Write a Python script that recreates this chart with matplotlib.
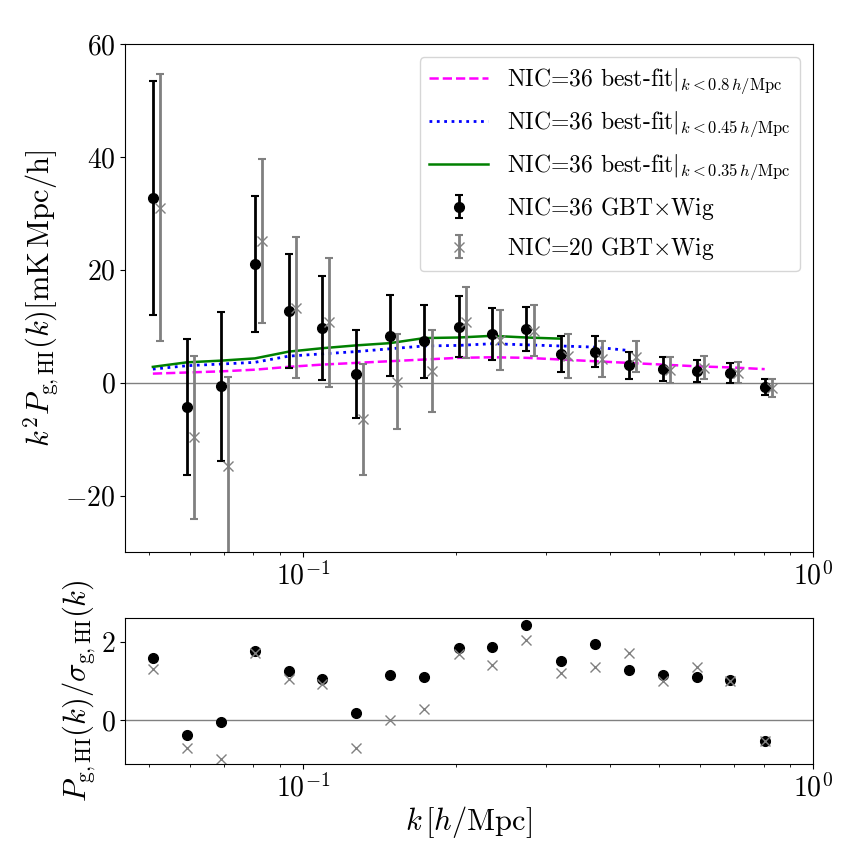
import matplotlib
matplotlib.use("Agg")
import matplotlib.pyplot as plt
import numpy as np

plt.rcParams['font.family'] = 'serif'
plt.rcParams['font.serif'] = ['cmr10', 'DejaVu Serif']
plt.rcParams['mathtext.fontset'] = 'cm'
plt.rcParams['axes.formatter.use_mathtext'] = True

# k bins [h/Mpc]
k = np.array([0.0508, 0.0592, 0.0690, 0.0805, 0.0938, 0.109, 0.127, 0.148, 0.173,
              0.202, 0.235, 0.274, 0.320, 0.373, 0.435, 0.507, 0.591, 0.689, 0.804])

# NIC=36 GBTxWig
p36 = [32.7, -4.3, -0.6, 21.0, 12.7, 9.7, 1.6, 8.3, 7.3, 9.9, 8.6, 9.5, 5.1, 5.5, 3.1, 2.4, 2.1, 1.7, -0.77]
e36 = [20.8, 12.0, 13.2, 12.0, 10.1, 9.2, 7.8, 7.2, 6.4, 5.4, 4.6, 3.9, 3.2, 2.8, 2.4, 2.1, 1.9, 1.7, 1.4]

# NIC=20 GBTxWig
p20 = [31.0, -9.7, -14.8, 25.1, 13.3, 10.7, -6.5, 0.2, 2.1, 10.7, 7.6, 9.2, 4.7, 4.2, 4.6, 2.3, 2.65, 1.8, -0.9]
e20 = [23.6, 14.5, 15.8, 14.5, 12.5, 11.4, 9.8, 8.4, 7.3, 6.3, 5.3, 4.5, 3.9, 3.2, 2.7, 2.3, 2.0, 1.8, 1.6]

# best-fit models
fit08 = [1.6, 1.8, 2.0, 2.3, 2.8, 3.2, 3.5, 3.8, 4.1, 4.4, 4.5, 4.4, 4.1, 3.8, 3.5, 3.2, 2.9, 2.7, 2.4]
fit045 = [2.4, 3.0, 3.3, 3.6, 4.7, 5.1, 5.5, 6.0, 6.5, 6.6, 6.9, 6.7, 6.5, 6.3, 5.7]
fit035 = [2.8, 3.6, 3.9, 4.3, 5.5, 6.1, 6.6, 7.0, 7.9, 8.0, 8.3, 8.0, 7.8]

# detection significance
sig36 = [1.57, -0.38, -0.06, 1.76, 1.24, 1.05, 0.17, 1.14, 1.11, 1.83, 1.86, 2.42, 1.50, 1.93, 1.27, 1.14, 1.11, 1.01, -0.54]
sig20 = [1.31, -0.70, -0.98, 1.72, 1.05, 0.91, -0.70, 0.01, 0.29, 1.69, 1.41, 2.05, 1.21, 1.34, 1.71, 0.99, 1.34, 0.99, -0.54]

fig = plt.figure(figsize=(8.64, 8.64), dpi=100)
ax1 = fig.add_axes([0.1447, 0.3611, 0.7963, 0.588])
ax2 = fig.add_axes([0.1447, 0.1157, 0.7963, 0.169])

ax1.axhline(0, color='gray', lw=1)
ax1.plot(k, fit08, color='magenta', ls='--', lw=1.8, label=r'NIC=36 best-fit$|_{k<0.8\,h/{\rm Mpc}}$')
ax1.plot(k[:len(fit045)], fit045, color='blue', ls=':', lw=2, label=r'NIC=36 best-fit$|_{k<0.45\,h/{\rm Mpc}}$')
ax1.plot(k[:len(fit035)], fit035, color='green', ls='-', lw=1.8, label=r'NIC=36 best-fit$|_{k<0.35\,h/{\rm Mpc}}$')
ax1.errorbar(k, p36, yerr=e36, fmt='o', color='black', ms=7, elinewidth=2, capsize=3, capthick=1.5,
             label=r'NIC=36 GBT$\times$Wig')
ax1.errorbar(k * 1.034, p20, yerr=e20, fmt='x', color='gray', ms=7, elinewidth=2, capsize=3, capthick=1.5,
             label=r'NIC=20 GBT$\times$Wig')

ax1.set_xscale('log')
ax1.set_xlim(0.0448, 1.0)
ax1.set_ylim(-30, 60)
ax1.set_yticks([-20, 0, 20, 40, 60])
ax1.set_ylabel(r'$k^2P_{\rm g,HI}(k) [{\rm mK\,Mpc/h}]$', fontsize=22, labelpad=2)
ax1.tick_params(labelsize=20)
ax1.legend(loc='upper right', fontsize=17, framealpha=0.8, handlelength=2.5,
           borderaxespad=0.55, labelspacing=0.55)

ax2.axhline(0, color='gray', lw=1)
ax2.plot(k, sig36, 'o', color='black', ms=7)
ax2.plot(k, sig20, 'x', color='gray', ms=7)
ax2.set_xscale('log')
ax2.set_xlim(0.0448, 1.0)
ax2.set_ylim(-1.12, 2.6)
ax2.set_yticks([0, 2])
ax2.set_ylabel(r'$P_{\rm g,HI}(k)/\sigma_{\rm g,HI}(k)$', fontsize=22, labelpad=2)
ax2.set_xlabel(r'$k\,[h/{\rm Mpc}]$', fontsize=22, labelpad=1)
ax2.tick_params(labelsize=20)

fig.savefig('out.png', dpi=100)
